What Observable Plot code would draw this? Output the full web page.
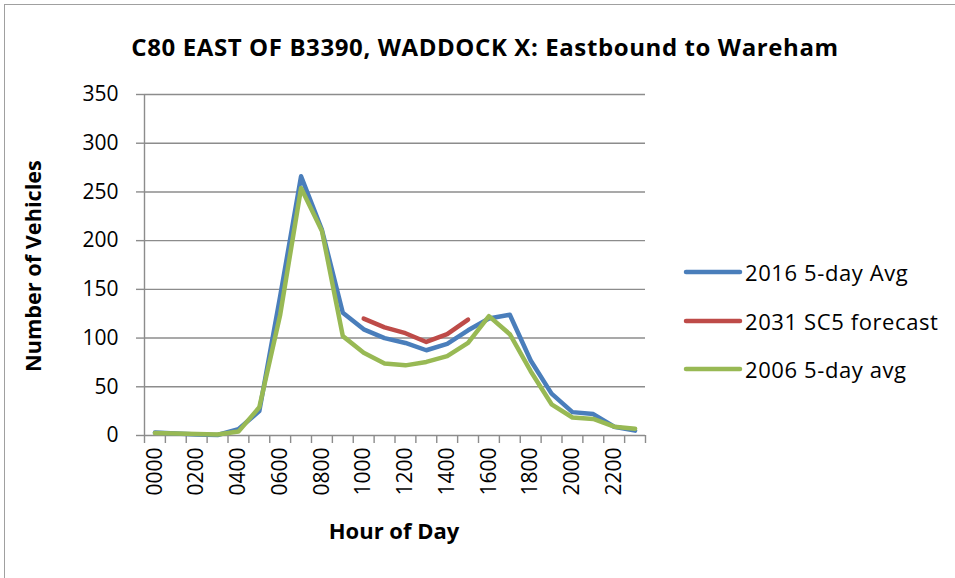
<!DOCTYPE html>
<html>
<head>
<meta charset="utf-8">
<script src="https://cdn.jsdelivr.net/npm/d3@7"></script>
<script src="https://cdn.jsdelivr.net/npm/@observablehq/plot@0.6"></script>
<style>
  html, body { margin: 0; padding: 0; background: #fff; }
  #wrap { position: relative; width: 955px; height: 578px; overflow: hidden; font-family: "Open Sans", Lato, sans-serif; color: #000; }
  #border { position: absolute; left: 4px; top: 4px; width: 1000px; height: 1000px; border: 1.5px solid #a0a0a0; box-sizing: border-box; }
  #title { position: absolute; top: 46px; left: 485px; transform: translate(-50%, -50%); font-weight: bold; font-size: 24px; white-space: nowrap; letter-spacing: 0.6px; }
  #ytitle { position: absolute; left: 32px; top: 266px; transform: translate(-50%, -50%) rotate(-90deg); font-weight: bold; font-size: 21.7px; white-space: nowrap; }
  #xtitle { position: absolute; left: 394px; top: 530px; transform: translate(-50%, -50%); font-weight: bold; font-size: 22px; white-space: nowrap; }
  #plot { position: absolute; left: 0; top: 80px; }
  #legend { position: absolute; left: 683px; top: 248px; font-size: 22px; letter-spacing: 0.6px; }
  .li { display: flex; align-items: center; height: 48.5px; white-space: nowrap; }
  .li svg { margin-right: 2px; }
</style>
</head>
<body>
<div id="wrap">
  <div id="border"></div>
  <div id="title">C80 EAST OF B3390, WADDOCK X: Eastbound to Wareham</div>
  <div id="ytitle">Number of Vehicles</div>
  <div id="xtitle">Hour of Day</div>
  <div id="plot"></div>
  <div id="legend"></div>
</div>
<script>
const hours = ["0000","0100","0200","0300","0400","0500","0600","0700","0800","0900","1000","1100",
               "1200","1300","1400","1500","1600","1700","1800","1900","2000","2100","2200","2300"];
const avg2016 = [3, 2, 1, 0.5, 6.5, 25, 143, 266, 211, 126, 109, 100, 95, 87.5, 94, 108, 120, 124, 77, 43, 24, 22, 9, 5];
const sc5_2031 = [null, null, null, null, null, null, null, null, null, null, 120, 111, 105, 96, 104, 119, null, null, null, null, null, null, null, null];
const avg2006 = [2.5, 2, 1.5, 1, 4, 29, 124, 254, 210, 102, 85, 74, 72, 75.5, 81.5, 95, 122.5, 104, 66, 32, 18.5, 17, 9, 7];
const seriesNames = ["2016 5-day Avg", "2031 SC5 forecast", "2006 5-day avg"];
const seriesColors = ["#4a7ebb", "#be4b48", "#98b954"];
const yTicks = [0, 50, 100, 150, 200, 250, 300, 350];
const xLabelHours = ["0000","0200","0400","0600","0800","1000","1200","1400","1600","1800","2000","2200"];

const seriesValues = [avg2016, sc5_2031, avg2006];
const rows = [];
seriesValues.forEach((vals, s) => {
  vals.forEach((v, i) => {
    if (v != null) rows.push({series: seriesNames[s], i: i + 0.5, hour: hours[i], value: v});
  });
});

const gridColor = "#8c8c8c";
const plot = Plot.plot({
  width: 955,
  height: 498,
  marginTop: 14,
  marginBottom: 143,
  marginLeft: 144,
  marginRight: 310,
  style: {fontFamily: "'Open Sans', Lato, sans-serif", fontSize: "21px", color: "#000", background: "transparent"},
  x: {type: "linear", domain: [0, hours.length], axis: null},
  y: {domain: [0, 350], axis: null},
  marks: [
    Plot.ruleY(yTicks, {stroke: gridColor, strokeWidth: 1.4}),
    Plot.ruleX([0], {stroke: gridColor, strokeWidth: 1.4}),
    Plot.axisY({ticks: yTicks, tickSize: 8, tickPadding: 18, stroke: gridColor, strokeWidth: 1.4, label: null, fill: "#000"}),
    Plot.axisX({ticks: d3.range(0, hours.length + 1), tickSize: 8, tickFormat: () => "", stroke: gridColor, strokeWidth: 1.4, label: null}),
    Plot.axisX({
      ticks: xLabelHours.map(h => hours.indexOf(h) + 0.5),
      tickFormat: d => hours[Math.round(d - 0.5)],
      tickSize: 0, tickRotate: -90, tickPadding: 12, label: null, fill: "#000"
    }),
    Plot.line(rows, {
      x: "i", y: "value", z: "series",
      stroke: "series",
      strokeWidth: 4.5, strokeLinejoin: "round", strokeLinecap: "round"
    })
  ],
  color: {domain: seriesNames, range: seriesColors}
});
document.getElementById("plot").appendChild(plot);

const legend = document.getElementById("legend");
seriesNames.forEach((name, k) => {
  const item = document.createElement("div");
  item.className = "li";
  item.innerHTML = `<svg width="60" height="10"><line x1="3" y1="5" x2="57" y2="5" stroke="${seriesColors[k]}" stroke-width="4.5" stroke-linecap="round"/></svg><span>${name}</span>`;
  legend.appendChild(item);
});
</script>
</body>
</html>
